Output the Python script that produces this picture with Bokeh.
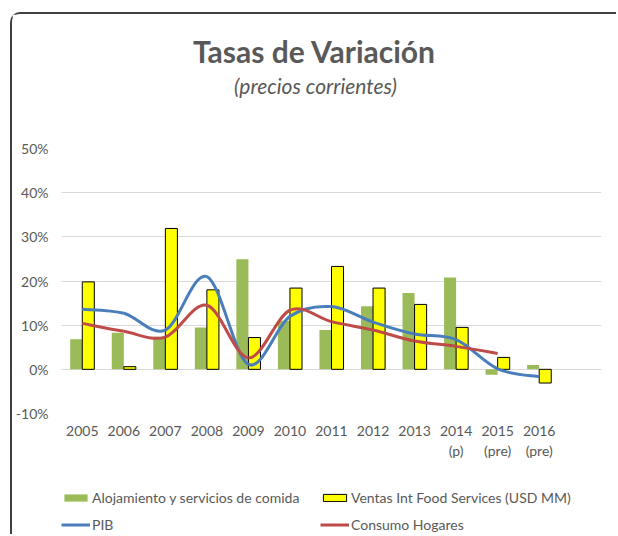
from bokeh.plotting import figure
from bokeh.layouts import column
from bokeh.models import (ColumnDataSource, FixedTicker, PrintfTickFormatter, Label,
                          Legend, LegendItem)
from bokeh.embed import file_html
from bokeh.resources import INLINE

# ---- data (percent) ----
years = ["2005", "2006", "2007", "2008", "2009", "2010", "2011", "2012", "2013",
         "2014\n(p)", "2015\n(pre)", "2016\n(pre)"]
alojamiento = [6.8, 8.3, 7.4, 9.5, 24.9, 11.0, 8.9, 14.3, 17.3, 20.8, -1.2, 1.0]
ventas = [19.8, 0.6, 31.9, 18.0, 7.2, 18.4, 23.3, 18.4, 14.7, 9.5, 2.7, -3.1]
pib = [13.6, 12.7, 8.9, 21.0, 1.1, 12.0, 14.2, 10.7, 8.0, 6.7, 0.1, -1.7]
consumo = [10.4, 8.6, 7.3, 14.5, 2.6, 13.4, 10.8, 8.9, 6.4, 5.2, 3.6, None]
y_ticks = [-10, 0, 10, 20, 30, 40, 50]

FONT = "Lato"
TXT = "#595959"
GREEN = "#9BBB59"
YELLOW = "#FFFF00"
BLUE = "#4A7EBB"
RED = "#BE4B48"
W = 604

xs = list(range(len(years)))
bw = 0.29


def bare(fig):
    fig.grid.visible = False
    fig.outline_line_color = None
    fig.background_fill_color = "white"
    fig.border_fill_color = "white"


# ---------- title block ----------
pt = figure(width=W, height=124, output_backend="svg", toolbar_location=None,
            x_axis_location=None, y_axis_location=None,
            min_border=0, x_range=(0, 1), y_range=(0, 1))
bare(pt)
pt.add_layout(Label(x=253, y=88, x_units="screen", y_units="screen",
                    text="Tasas de Variación", text_font=FONT, text_font_style="bold",
                    text_font_size="30px", text_color=TXT, text_align="center",
                    text_baseline="middle"))
pt.add_layout(Label(x=254, y=53, x_units="screen", y_units="screen",
                    text="(precios corrientes)", text_font=FONT, text_font_style="italic",
                    text_font_size="21px", text_color=TXT, text_align="center",
                    text_baseline="middle"))

# ---------- main chart ----------
p = figure(width=W, height=335, output_backend="svg", toolbar_location=None,
           x_range=(-0.5, 12.5), y_range=(-10, 50),
           min_border_left=49, min_border_right=15, min_border_top=10,
           min_border_bottom=60)
p.outline_line_color = None
p.background_fill_color = "white"
p.border_fill_color = "white"

p.xgrid.grid_line_color = None
p.ygrid.grid_line_color = "#D9D9D9"
p.ygrid.grid_line_width = 1
p.ygrid.ticker = FixedTicker(ticks=y_ticks)

p.yaxis.ticker = FixedTicker(ticks=y_ticks)
p.yaxis.formatter = PrintfTickFormatter(format="%d%%")
p.xaxis.ticker = FixedTicker(ticks=xs)
p.xaxis.major_label_overrides = {i: y for i, y in enumerate(years)}
for ax in (p.xaxis[0], p.yaxis[0]):
    ax.axis_line_color = None
    ax.major_tick_line_color = None
    ax.minor_tick_line_color = None
    ax.major_tick_out = 0
    ax.major_tick_in = 0
    ax.minor_tick_out = 0
    ax.major_label_text_font = FONT
    ax.major_label_text_font_size = "14px"
    ax.major_label_text_color = TXT
p.yaxis.major_label_standoff = 13
p.xaxis.major_label_standoff = 8

src = ColumnDataSource(dict(
    xg=[x - bw / 2 for x in xs], xy=[x + bw / 2 for x in xs],
    aloj=alojamiento, vent=ventas))
BAR_G = dict(fill_color=GREEN, line_color=None)
BAR_Y = dict(fill_color=YELLOW, line_color="black", line_width=1)
p.vbar(x="xg", top="aloj", bottom=0, width=bw, source=src, **BAR_G)
p.vbar(x="xy", top="vent", bottom=0, width=bw, source=src, **BAR_Y)


# smooth lines (Excel-like Catmull-Rom Bezier through the data points)
def smooth(vals, color):
    pts = [(x, v) for x, v in zip(xs, vals) if v is not None]
    d = dict(x0=[], y0=[], x1=[], y1=[], cx0=[], cy0=[], cx1=[], cy1=[])
    n = len(pts)
    for i in range(n - 1):
        p0 = pts[i - 1] if i > 0 else pts[i]
        p1 = pts[i]
        p2 = pts[i + 1]
        p3 = pts[i + 2] if i + 2 < n else pts[i + 1]
        d["x0"].append(p1[0]); d["y0"].append(p1[1])
        d["x1"].append(p2[0]); d["y1"].append(p2[1])
        d["cx0"].append(p1[0] + (p2[0] - p0[0]) / 6)
        d["cy0"].append(p1[1] + (p2[1] - p0[1]) / 6)
        d["cx1"].append(p2[0] - (p3[0] - p1[0]) / 6)
        d["cy1"].append(p2[1] - (p3[1] - p1[1]) / 6)
    p.bezier(x0="x0", y0="y0", x1="x1", y1="y1", cx0="cx0", cy0="cy0",
             cx1="cx1", cy1="cy1", source=ColumnDataSource(d),
             line_color=color, line_width=3)


smooth(pib, BLUE)
smooth(consumo, RED)

# ---------- legend block (same series, drawn out of view; only the legend shows) ----------
pl = figure(width=W, height=61, output_backend="svg", toolbar_location=None,
            x_axis_location=None, y_axis_location=None,
            min_border=0, x_range=(-0.5, 12.5), y_range=(1000, 1001))
bare(pl)
lsrc = ColumnDataSource(dict(x=xs, aloj=alojamiento, vent=ventas, pib=pib,
                             cons=[v if v is not None else float("nan") for v in consumo]))
lg = pl.vbar(x="x", top="aloj", bottom=0, width=bw, source=lsrc, **BAR_G)
ly = pl.vbar(x="x", top="vent", bottom=0, width=bw, source=lsrc, **BAR_Y)
lb = pl.line(x="x", y="pib", source=lsrc, line_color=BLUE, line_width=3)
lr = pl.line(x="x", y="cons", source=lsrc, line_color=RED, line_width=3)

legend = Legend(items=[
    LegendItem(label="Alojamiento y servicios de comida", renderers=[lg]),
    LegendItem(label="PIB", renderers=[lb]),
    LegendItem(label="Ventas Int Food Services (USD MM)", renderers=[ly]),
    LegendItem(label="Consumo Hogares", renderers=[lr]),
], location=(0, 1), ncols=2, glyph_width=29, glyph_height=9,
    label_standoff=2, label_width=218, spacing=10, padding=0, margin=0,
    border_line_color=None, background_fill_alpha=0,
    label_text_font=FONT, label_text_font_size="14px", label_text_color=TXT)
pl.add_layout(legend, "center")

layout = column(pt, p, pl, spacing=0)
layout.styles = {"margin-left": "10px", "margin-top": "12px",
                 "border-left": "2px solid #404040", "border-top": "2px solid #404040",
                 "border-top-left-radius": "10px"}

open("out.html", "w").write(file_html(layout, INLINE))
